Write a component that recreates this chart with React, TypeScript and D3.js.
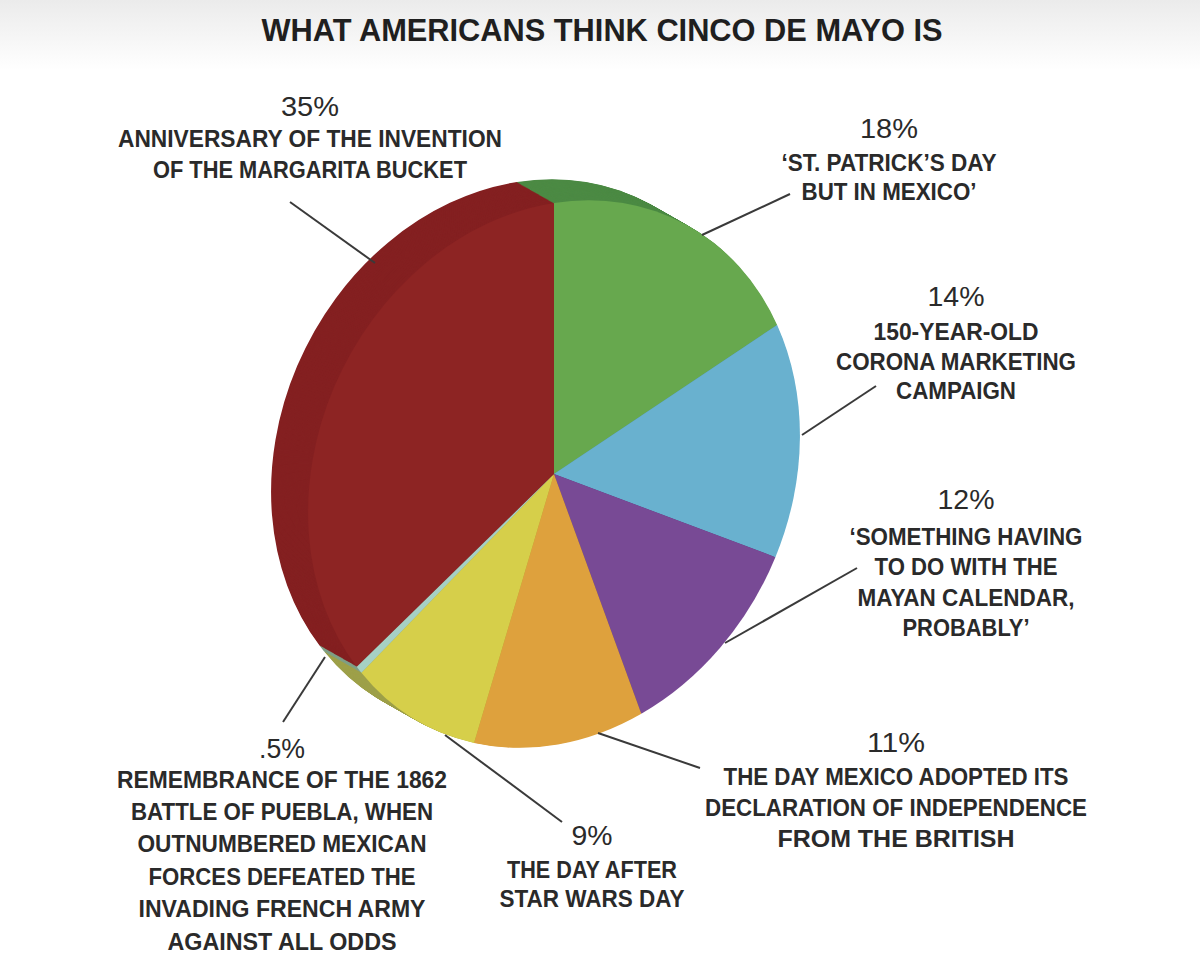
import React from "react";
import * as d3 from "d3";

const title = "WHAT AMERICANS THINK CINCO DE MAYO IS";

// slices in clockwise order starting at 12 o'clock
const categories = ["stpatrick", "corona", "mayan", "independence", "starwars", "puebla", "margarita"];
const values = [18, 14, 12, 11, 9, 0.5, 35];
const pctLabels = ["18%", "14%", "12%", "11%", "9%", ".5%", "35%"];
const labelLines = [
  ["‘ST. PATRICK’S DAY", "BUT IN MEXICO’"],
  ["150-YEAR-OLD", "CORONA MARKETING", "CAMPAIGN"],
  ["‘SOMETHING HAVING", "TO DO WITH THE", "MAYAN CALENDAR,", "PROBABLY’"],
  ["THE DAY MEXICO ADOPTED ITS", "DECLARATION OF INDEPENDENCE", "FROM THE BRITISH"],
  ["THE DAY AFTER", "STAR WARS DAY"],
  ["REMEMBRANCE OF THE 1862", "BATTLE OF PUEBLA, WHEN", "OUTNUMBERED MEXICAN", "FORCES DEFEATED THE", "INVADING FRENCH ARMY", "AGAINST ALL ODDS"],
  ["ANNIVERSARY OF THE INVENTION", "OF THE MARGARITA BUCKET"],
];
const faceColors = ["#67a84e", "#69b1cf", "#784a95", "#dea13d", "#d6cf4a", "#a6d0c4", "#8d2423"];
const rimColors = ["#4c8a44", "#4f8fab", "#5e3877", "#b98229", "#9ea04a", "#7f9f86", "#842021"];

// label layout: center x, baselines (pct first), text widths
const labelX = [889, 956, 966, 896, 592, 282, 310];
const pctBaselines = [138, 306, 509, 752, 845, 758, 116];
const lineBaselines = [
  [171, 200],
  [340, 370, 399],
  [545, 575, 606, 636],
  [785, 816, 847],
  [878, 907],
  [788, 820, 852, 885, 917, 950],
  [147, 178],
];
const pctWidths = [58, 57, 57, 58, 41, 46, 58];
const lineWidths = [
  [215, 175],
  [165, 240, 120],
  [233, 183, 217, 127],
  [345, 382, 237],
  [170, 185],
  [330, 302, 289, 267, 287, 229],
  [384, 314],
];
const leaders = [
  [[790, 194], [702, 235]],
  [[876, 386], [802, 435]],
  [[857, 568], [725, 643]],
  [[700, 768], [598, 733]],
  [[562, 822], [445, 735]],
  [[283, 722], [325, 657]],
  [[290, 202], [375, 263]],
];

export default function App() {
  const width = 1200;
  const height = 956;
  const cx = 554;
  const cy = 474;
  const rx = 246;
  const ry = 271;
  const shear = -38.6;
  const rimDx = -37;
  const rimDy = -21;
  const steps = 40;

  const arcs = d3.pie<number>().sort(null).value((d) => d)(values);
  const arc = d3.arc<d3.PieArcDatum<number>>().innerRadius(0).outerRadius(1);
  const matrix = `matrix(${rx},${shear},0,${ry},${cx},${cy})`;
  const line = d3.line();

  const rimLayers = d3.range(steps, 0, -1).map((k) => k / steps);

  return (
    <svg width={width} height={height} style={{ position: "absolute", left: 0, top: 0 }}>
      <defs>
        <linearGradient id="topband" x1="0" y1="0" x2="0" y2="1">
          <stop offset="0" stopColor="#ebebeb" />
          <stop offset="1" stopColor="#ffffff" />
        </linearGradient>
      </defs>
      <rect x={0} y={0} width={width} height={height} fill="#ffffff" />
      <rect x={0} y={0} width={width} height={70} fill="url(#topband)" />
      <text
        x={602}
        y={41}
        textAnchor="middle"
        fontFamily="'Liberation Sans Narrow', 'Liberation Sans', Arial, sans-serif"
        fontWeight="bold"
        fontSize={32}
        fill="#1f1f1f"
        textLength={681}
        lengthAdjust="spacingAndGlyphs"
      >
        {title}
      </text>

      {rimLayers.map((t) => (
        <g key={t} transform={`translate(${t * rimDx},${t * rimDy})`}>
          <g transform={matrix}>
            {arcs.map((a, i) => (
              <path key={categories[i]} d={arc(a) || ""} fill={rimColors[i]} />
            ))}
          </g>
        </g>
      ))}
      <g transform={matrix}>
        {arcs.map((a, i) => (
          <path key={categories[i]} d={arc(a) || ""} fill={faceColors[i]} />
        ))}
      </g>

      {leaders.map((pts, i) => (
        <path
          key={"l" + i}
          d={line(pts as [number, number][]) || ""}
          stroke="#3a3a3a"
          strokeWidth={2}
          fill="none"
        />
      ))}

      {categories.map((c, i) => (
        <g key={"t" + c} fill="#2a2a2a" fontFamily="'Liberation Sans', Arial, sans-serif" textAnchor="middle">
          <text
            x={labelX[i]}
            y={pctBaselines[i]}
            fontSize={28}
            textLength={pctWidths[i]}
            lengthAdjust="spacingAndGlyphs"
          >
            {pctLabels[i]}
          </text>
          {labelLines[i].map((ln, j) => (
            <text
              key={j}
              x={labelX[i]}
              y={lineBaselines[i][j]}
              fontSize={23.5}
              fontWeight="bold"
              textLength={lineWidths[i][j]}
              lengthAdjust="spacingAndGlyphs"
            >
              {ln}
            </text>
          ))}
        </g>
      ))}
    </svg>
  );
}
